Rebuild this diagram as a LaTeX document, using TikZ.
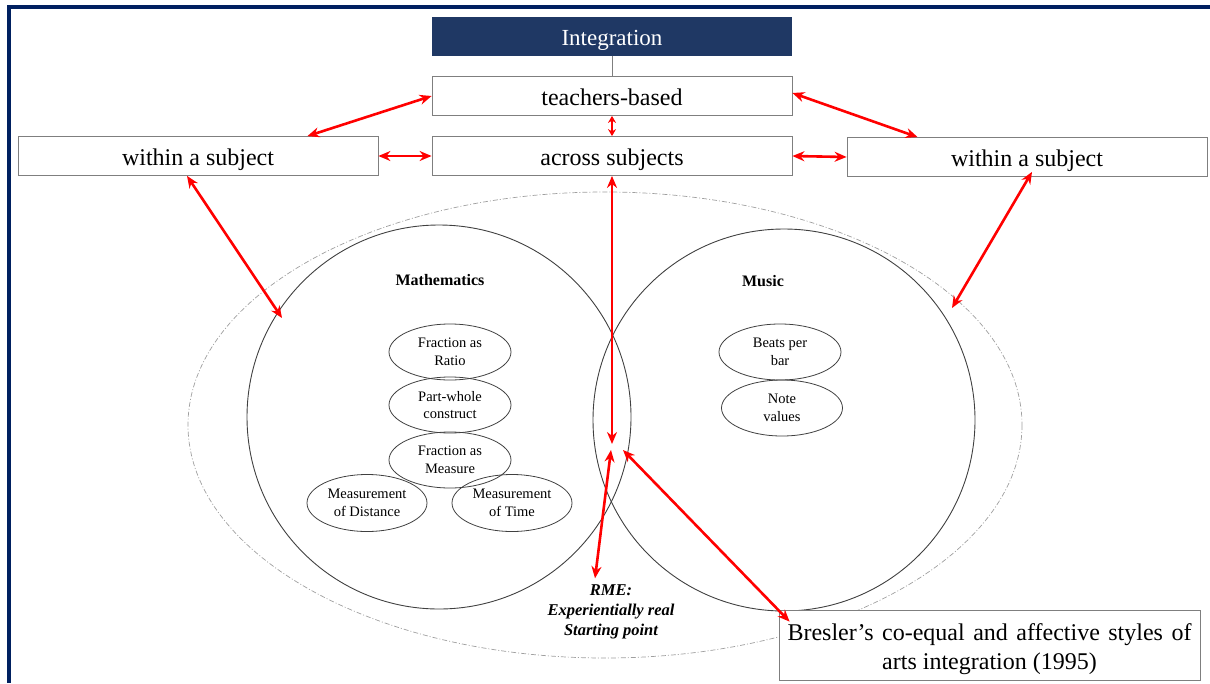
\documentclass[tikz,border=0pt]{standalone}
\usepackage{fontspec}
\setmainfont{Liberation Serif}
\usetikzlibrary{arrows.meta,shapes.geometric,calc}
\definecolor{framenavy}{HTML}{002060}
\definecolor{boxnavy}{HTML}{1F3864}
\definecolor{boxline}{HTML}{7F7F7F}
\definecolor{ringline}{HTML}{404040}
\begin{document}
\begin{tikzpicture}[x=1pt,y=-1pt,
  box/.style={draw=boxline,line width=0.8pt,minimum width=360pt,minimum height=39pt,
    inner sep=0pt,text height=23pt,text depth=4pt,font=\fontsize{24}{28}\selectfont},
  topbox/.style={fill=boxnavy,minimum width=360pt,minimum height=39pt,inner sep=0pt,
    text height=22pt,text depth=4pt,text=white,font=\fontsize{23}{28}\selectfont},
  dbl/.style={red,line width=2.6pt,{Stealth[length=12pt,width=10pt]}-{Stealth[length=12pt,width=10pt]}},
  shortdbl/.style={red,line width=2.4pt,{Stealth[length=7pt,width=8pt]}-{Stealth[length=7pt,width=8pt]}},
  ring/.style={draw=ringline,line width=0.9pt},
  outer/.style={draw=gray!75,line width=0.7pt,dash pattern=on 5pt off 2pt on 1pt off 2pt},
  idea/.style={ellipse,draw=ringline,line width=0.8pt,minimum width=122pt,minimum height=56pt,
    inner sep=0pt,align=center,font=\fontsize{14.5}{17.5}\selectfont},
  heading/.style={font=\fontsize{16}{19}\selectfont\bfseries},
  frame/.style={framenavy,line width=4pt}]
\useasboundingbox (0,0) rectangle (1210,683);

% outer border
\draw[frame] (1210,7) -- (9,7) -- (9,683);

% subject areas
\draw[outer] (605,425) ellipse [x radius=417,y radius=233];
\draw[ring] (439,417) circle [radius=192];
\draw[ring] (784,420) circle [radius=191];
\node[heading] (math) at (440,280) {Mathematics};
\node[heading] (music) at (763,281) {Music};

% mathematics ideas
\node[idea] (ratio) at (450,352) {Fraction as\\Ratio};
\node[idea] (partwhole) at (450,405) {Part-whole\\construct};
\node[idea] (measure) at (450,460) {Fraction as\\Measure};
\node[idea,minimum width=120pt,minimum height=57pt] (dist) at (367,503) {Measurement\\of Distance};
\node[idea,minimum width=120pt,minimum height=57pt] (time) at (512,503) {Measurement\\of Time};

% music ideas
\node[idea] (beats) at (780,352) {Beats per\\bar};
\node[idea,minimum width=121pt] (notes) at (782,408) {Note\\values};

% integration hierarchy
\node[topbox] (integ) at (612,36) {Integration};
\node[box] (tb) at (612,96) {teachers-based};
\node[box] (ac) at (612,156) {across subjects};
\node[box] (lw) at (198,156) {within a subject};
\node[box] (rw) at (1027,157) {within a subject};
\draw[boxline,line width=0.8pt] (integ.south) -- (tb.north);

% RME label and Bresler box
\node[align=center,font=\fontsize{16.5}{20}\selectfont\bfseries\itshape] (rme) at (611,612)
  {RME:\\Experientially real\\Starting point};
\node[draw=boxline,line width=0.8pt,fill=white,minimum width=421pt,minimum height=70pt,
  inner sep=0pt] (br) at (989.5,645) {};
\node[align=center,font=\fontsize{24}{29}\selectfont] (brtext) at (989.5,649)
  {\makebox[404pt][s]{Bresler’s co-equal and affective styles of}\\arts integration (1995)};

% points where arrows meet the diagrams
\coordinate (mathedge) at (282,318);
\coordinate (musicedge) at (952,308);
\coordinate (centre) at (612,444);
\coordinate (rmetop) at (611,450);
\coordinate (bretop) at (623,450);

% connectors
\draw[dbl] (tb.west) -- ([xshift=-71pt]lw.north east);
\draw[dbl] ([yshift=3pt]tb.east) -- ([xshift=71pt]rw.north west);
\draw[shortdbl] (tb.south) -- (ac.north);
\draw[dbl] (lw.east) -- (ac.west);
\draw[dbl] (ac.east) -- (rw.west);
\draw[dbl] ([xshift=-11pt]lw.south) -- (mathedge);
\draw[dbl] ([xshift=5pt,yshift=5pt]rw.south) -- (musicedge);
\draw[dbl] (ac.south) -- (centre);
\draw[dbl] (rmetop) -- ([xshift=-16pt,yshift=3pt]rme.north);
\draw[dbl] (bretop) -- ([xshift=11pt,yshift=-12pt]br.north west);
\end{tikzpicture}
\end{document}
